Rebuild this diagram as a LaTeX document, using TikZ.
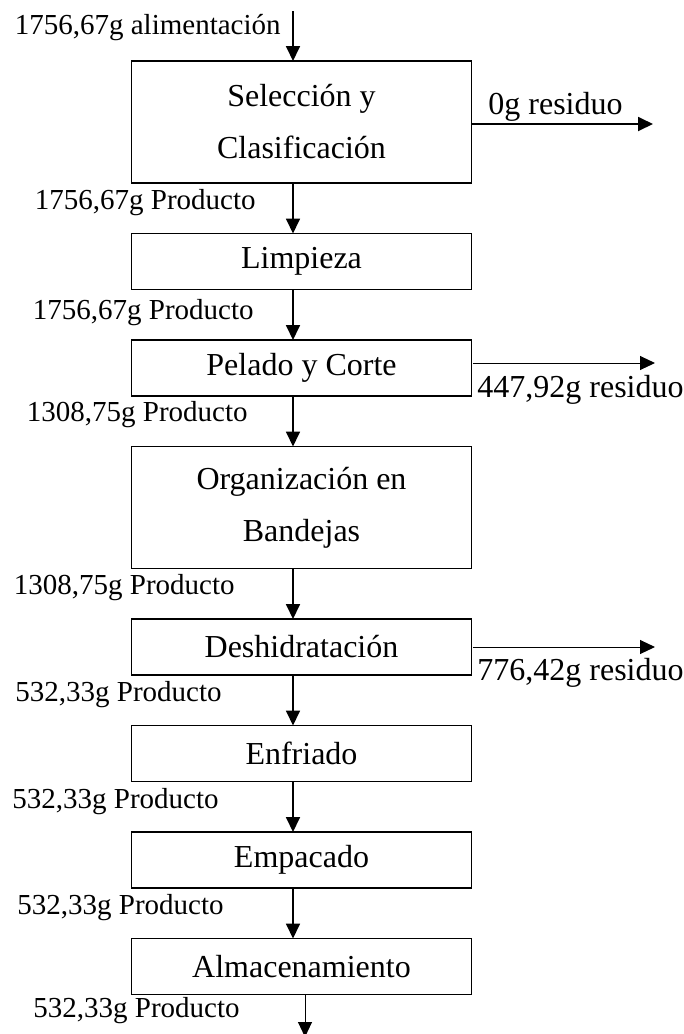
\documentclass[tikz,border=0pt]{standalone}
\usepackage{fontspec}
\setmainfont{Liberation Serif}
\usetikzlibrary{arrows.meta,positioning}

\begin{document}
\begin{tikzpicture}[
  x=0.5pt, y=-0.5pt,
  node distance=25.25pt,
  block/.style={rectangle, draw, line width=0.6pt, minimum width=170.25pt,
                minimum height=28pt, align=center, inner sep=0pt, outer sep=0pt,
                font=\fontsize{16}{26}\selectfont},
  tall/.style={block, minimum height=61pt},
  flow/.style={-{Triangle[length=7.5pt,width=7pt]}, line width=0.9pt},
  thinflow/.style={-{Triangle[length=7.5pt,width=7pt]}, line width=0.5pt},
  mass/.style={inner sep=0pt, anchor=east, font=\fontsize{14.5}{17}\selectfont},
  waste/.style={inner sep=0pt, anchor=base west, font=\fontsize{16}{19}\selectfont}
]
  \useasboundingbox (0,0) rectangle (684,1034);

  % process steps
  \node[tall] (sel) at (301.5,122) {Selección y\\Clasificación};
  \node[block,below=of sel] (lim) {Limpieza};
  \node[block,below=of lim] (pel) {Pelado y Corte};
  \node[tall,below=of pel]  (org) {Organización en\\Bandejas};
  \node[block,below=of org] (des) {Deshidratación};
  \node[block,below=of des] (enf) {Enfriado};
  \node[block,below=of enf] (emp) {Empacado};
  \node[block,below=of emp] (alm) {Almacenamiento};

  % main product line
  \coordinate (ax)   at (293,0);
  \coordinate (feed) at (293,11);
  \coordinate (tail) at (305,1037);
  \draw[flow] (feed) -- (sel.north -| ax);
  \draw[flow] (sel.south -| ax) -- (lim.north -| ax);
  \draw[flow] (lim.south -| ax) -- (pel.north -| ax);
  \draw[flow] (pel.south -| ax) -- (org.north -| ax);
  \draw[flow] (org.south -| ax) -- (des.north -| ax);
  \draw[flow] (des.south -| ax) -- (enf.north -| ax);
  \draw[flow] (enf.south -| ax) -- (emp.north -| ax);
  \draw[flow] (emp.south -| ax) -- (alm.north -| ax);
  \draw[thinflow] (alm.south -| tail) -- (tail);

  % mass labels
  \node[mass] (m0) at (281,28)   {1756,67g alimentación};
  \node[mass] (m1) at (256,203)  {1756,67g Producto};
  \node[mass] (m2) at (254,313)  {1756,67g Producto};
  \node[mass] (m3) at (248,415)  {1308,75g Producto};
  \node[mass] (m4) at (235,588)  {1308,75g Producto};
  \node[mass] (m5) at (222,695)  {532,33g Producto};
  \node[mass] (m6) at (219,802)  {532,33g Producto};
  \node[mass] (m7) at (224,908)  {532,33g Producto};
  \node[mass] (m8) at (240,1011) {532,33g Producto};

  % waste streams
  \coordinate (out1) at (653,124);
  \coordinate (out2) at (655,363);
  \coordinate (out3) at (655,647);
  \draw[flow] (sel.east |- out1) -- (out1);
  \draw[thinflow] ([xshift=0.5pt]pel.east |- out2) -- (out2);
  \draw[thinflow] ([xshift=0.5pt]des.east |- out3) -- (out3);
  \node[waste] (w1) at (488,114) {0g residuo};
  \node[waste] (w2) at (477,397) {447,92g residuo};
  \node[waste] (w3) at (477,680) {776,42g residuo};
\end{tikzpicture}
\end{document}
